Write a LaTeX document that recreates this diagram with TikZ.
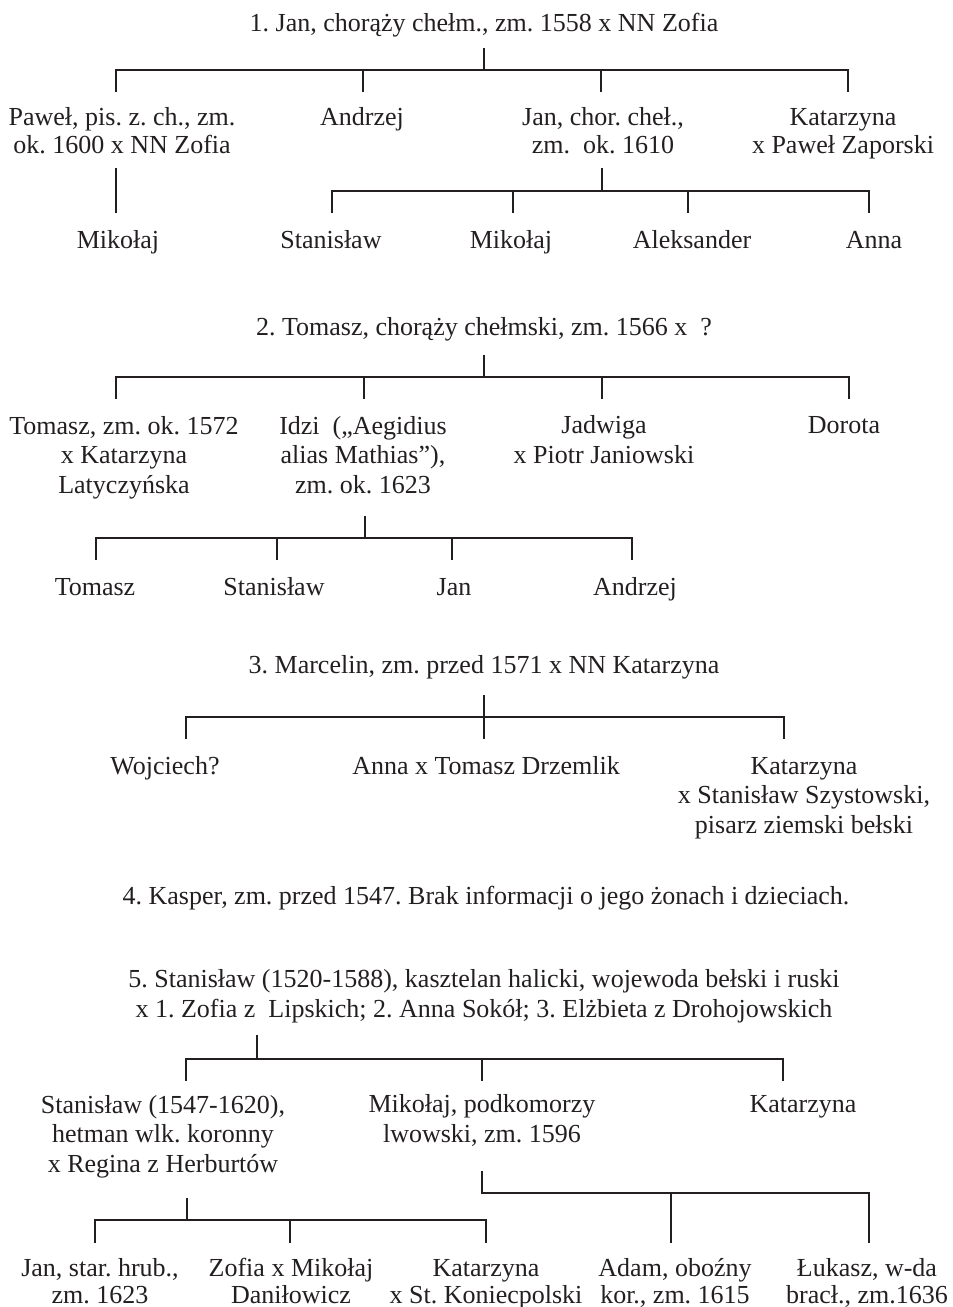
\documentclass[tikz,border=0pt]{standalone}
\usepackage{fontspec}
\setmainfont{Liberation Serif}
\frenchspacing
\definecolor{ink}{HTML}{231F20}
\begin{document}
\begin{tikzpicture}[x=1pt,y=-1pt,
  pers/.style={font=\fontsize{26}{29.5}\selectfont, text=ink, align=center, inner sep=0pt, anchor=base},
  tight/.style={font=\fontsize{26}{28}\selectfont},
  tighter/.style={font=\fontsize{26}{27}\selectfont},
  conn/.style={draw=ink, line width=1.3pt}]
\useasboundingbox (0,0) rectangle (953,1307);
% (anchor=base of a multi-line node = baseline of its last line)
% ---------- 1 ----------
\node[pers] (a) at (484,31) {1. Jan, chorąży chełm., zm. 1558 x NN Zofia};
\coordinate (a-s) at (484,48);
\coordinate (a-b) at (484,70);
\node[pers,tight] (a1) at (122,153) {Paweł, pis. z. ch., zm.\\ok. 1600 x NN Zofia};
\node[pers] (a2) at (362,125) {Andrzej};
\node[pers,tight] (a3) at (603,153) {Jan, chor. cheł.,\\zm.\ \ ok. 1610};
\node[pers,tight] (a4) at (843,153) {Katarzyna\\x Paweł Zaporski};
\coordinate (a1-t) at (116,92);
\coordinate (a2-t) at (363,92);
\coordinate (a3-t) at (601,92);
\coordinate (a4-t) at (848,92);
\draw[conn] (a-s) -- (a-b);
\draw[conn] (a1-t) -- (a1-t |- a-b) -- (a4-t |- a-b) -- (a4-t);
\draw[conn] (a2-t) -- (a2-t |- a-b);
\draw[conn] (a3-t) -- (a3-t |- a-b);
% Pawel -> Mikolaj
\coordinate (a1-s) at (116,168);
\coordinate (a11-t) at (116,213);
\node[pers] (a11) at (118,248) {Mikołaj};
\draw[conn] (a1-s) -- (a11-t);
% Jan -> children
\coordinate (a3-s) at (602,168);
\coordinate (a3-b) at (602,191);
\node[pers] (a31) at (331,248) {Stanisław};
\node[pers] (a32) at (511,248) {Mikołaj};
\node[pers] (a33) at (692,248) {Aleksander};
\node[pers] (a34) at (874,248) {Anna};
\coordinate (a31-t) at (332,213);
\coordinate (a32-t) at (513,213);
\coordinate (a33-t) at (688,213);
\coordinate (a34-t) at (869,213);
\draw[conn] (a3-s) -- (a3-b);
\draw[conn] (a31-t) -- (a31-t |- a3-b) -- (a34-t |- a3-b) -- (a34-t);
\draw[conn] (a32-t) -- (a32-t |- a3-b);
\draw[conn] (a33-t) -- (a33-t |- a3-b);
% ---------- 2 ----------
\node[pers] (b) at (484,335) {2. Tomasz, chorąży chełmski, zm. 1566 x\ \ ?};
\coordinate (b-s) at (484,355);
\coordinate (b-b) at (484,377);
\node[pers] (b1) at (124,493) {Tomasz, zm. ok. 1572\\x Katarzyna\\Latyczyńska};
\node[pers] (b2) at (363,493) {Idzi\ \ („Aegidius\\alias Mathias”),\\zm. ok. 1623};
\node[pers] (b3) at (604,463) {Jadwiga\\x Piotr Janiowski};
\node[pers] (b4) at (844,433) {Dorota};
\coordinate (b1-t) at (116,399);
\coordinate (b2-t) at (364,399);
\coordinate (b3-t) at (602,399);
\coordinate (b4-t) at (849,399);
\draw[conn] (b-s) -- (b-b);
\draw[conn] (b1-t) -- (b1-t |- b-b) -- (b4-t |- b-b) -- (b4-t);
\draw[conn] (b2-t) -- (b2-t |- b-b);
\draw[conn] (b3-t) -- (b3-t |- b-b);
% Idzi -> children
\coordinate (b2-s) at (365,516);
\coordinate (b2-b) at (365,538);
\node[pers] (b21) at (95,595) {Tomasz};
\node[pers] (b22) at (274,595) {Stanisław};
\node[pers] (b23) at (454,595) {Jan};
\node[pers] (b24) at (635,595) {Andrzej};
\coordinate (b21-t) at (96,560);
\coordinate (b22-t) at (277,560);
\coordinate (b23-t) at (452,560);
\coordinate (b24-t) at (632,560);
\draw[conn] (b2-s) -- (b2-b);
\draw[conn] (b21-t) -- (b21-t |- b2-b) -- (b24-t |- b2-b) -- (b24-t);
\draw[conn] (b22-t) -- (b22-t |- b2-b);
\draw[conn] (b23-t) -- (b23-t |- b2-b);
% ---------- 3 ----------
\node[pers] (c) at (484,673) {3. Marcelin, zm. przed 1571 x NN Katarzyna};
\coordinate (c-s) at (484,695);
\coordinate (c-b) at (484,717);
\node[pers] (c1) at (165,774) {Wojciech?};
\node[pers] (c2) at (486,774) {Anna x Tomasz Drzemlik};
\node[pers] (c3) at (804,833) {Katarzyna\\x Stanisław Szystowski,\\pisarz ziemski bełski};
\coordinate (c1-t) at (186,739);
\coordinate (c2-t) at (484,739);
\coordinate (c3-t) at (784,739);
\draw[conn] (c-s) -- (c2-t);
\draw[conn] (c1-t) -- (c1-t |- c-b) -- (c3-t |- c-b) -- (c3-t);
% ---------- 4 ----------
\node[pers] (d) at (486,904) {4. Kasper, zm. przed 1547. Brak informacji o jego żonach i dzieciach.};
% ---------- 5 ----------
\node[pers] (e) at (484,1017) {5. Stanisław (1520-1588), kasztelan halicki, wojewoda bełski i ruski\\x 1. Zofia z\ \ Lipskich; 2. Anna Sokół; 3. Elżbieta z Drohojowskich};
\coordinate (e-s) at (257,1035);
\coordinate (e-b) at (257,1059);
\node[pers] (e1) at (163,1172) {Stanisław (1547-1620),\\hetman wlk. koronny\\x Regina z Herburtów};
\node[pers] (e2) at (482,1142) {Mikołaj, podkomorzy\\lwowski, zm. 1596};
\node[pers] (e3) at (803,1112) {Katarzyna};
\coordinate (e1-t) at (186,1081);
\coordinate (e2-t) at (482,1081);
\coordinate (e3-t) at (783,1081);
\draw[conn] (e-s) -- (e-b);
\draw[conn] (e1-t) -- (e1-t |- e-b) -- (e3-t |- e-b) -- (e3-t);
\draw[conn] (e2-t) -- (e2-t |- e-b);
% Stanislaw -> children
\coordinate (e1-s) at (187,1198);
\coordinate (e1-b) at (187,1220);
\node[pers,tighter] (e11) at (100,1303) {Jan, star. hrub.,\\zm. 1623};
\node[pers,tighter] (e12) at (291,1303) {Zofia x Mikołaj\\Daniłowicz};
\node[pers,tighter] (e13) at (486,1303) {Katarzyna\\x St. Koniecpolski};
\coordinate (e11-t) at (95,1243);
\coordinate (e12-t) at (290,1243);
\coordinate (e13-t) at (486,1243);
\draw[conn] (e1-s) -- (e1-b);
\draw[conn] (e11-t) -- (e11-t |- e1-b) -- (e13-t |- e1-b) -- (e13-t);
\draw[conn] (e12-t) -- (e12-t |- e1-b);
% Mikolaj -> children
\coordinate (e2-s) at (482,1171);
\coordinate (e2-b) at (482,1193);
\node[pers,tighter] (e21) at (675,1303) {Adam, oboźny\\kor., zm. 1615};
\node[pers,tighter] (e22) at (867,1303) {Łukasz, w-da\\bracł., zm.1636};
\coordinate (e21-t) at (671,1243);
\coordinate (e22-t) at (869,1243);
\draw[conn] (e2-s) -- (e2-b) -- (e22-t |- e2-b) -- (e22-t);
\draw[conn] (e21-t) -- (e21-t |- e2-b);
\end{tikzpicture}
\end{document}
